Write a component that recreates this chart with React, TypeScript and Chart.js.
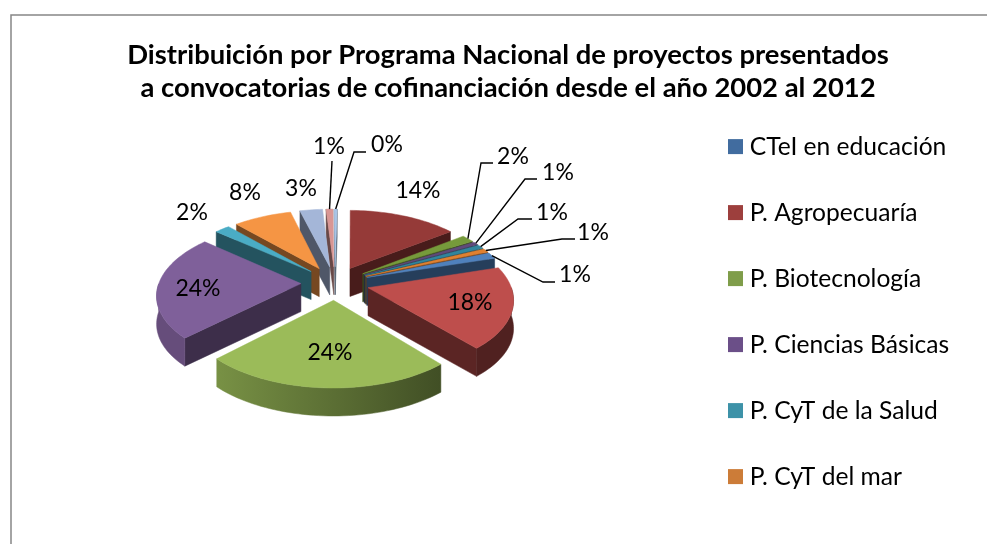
import React, { useEffect, useRef } from "react";
import { Chart, registerables } from "chart.js";

Chart.register(...registerables);

const FONT = "Lato";

const titleLines = [
  "Distribuición por Programa Nacional de proyectos presentados",
  "a convocatorias de cofinanciación desde el año 2002 al 2012",
];

// Only the first six names are legible: the source legend is cut off after them.
const categories = [
  "CTeI en educación",
  "P. Agropecuaría",
  "P. Biotecnología",
  "P. Ciencias Básicas",
  "P. CyT de la Salud",
  "P. CyT del mar",
  "", "", "", "", "", "", "", "",
];

const shares = [1.4, 18.4, 23.9, 23.6, 2.0, 7.7, 3.0, 0.9, 0.4, 14.4, 1.7, 0.7, 0.9, 0.9];

const sliceColors = [
  "#4F81BD", "#BE4E4C", "#9BBB59", "#7F609A", "#4AACC5", "#F59544", "#A4B6D8",
  "#D99694", "#A9C4E6", "#953A38", "#769A3B", "#5F4A7B", "#31859C", "#E08030",
];

const legendColors = ["#416C9F", "#9D3F3D", "#7F9D4A", "#6B4F88", "#3D92A8", "#CC7C38"];

// Label and leader layout, relative to the pie's centre.
const labelOffsets: [number, number][] = [
  [240, -8], [135, 20], [-5, 70], [-137, 6], [-143, -70], [-90, -90], [-34, -94],
  [-6, -136], [52, -138], [83, -92], [178, -126], [223, -110], [217, -70], [258, -50],
];

// [elbow dx, elbow dy, end dx] for the labels that have a leader line.
const leaders: Record<number, [number, number, number]> = {
  0: [208, -1, 220],
  7: [-3, -122, -3],
  8: [19, -131, 31],
  10: [146, -120, 158],
  11: [190, -104, 202],
  12: [183, -64, 197],
  13: [227, -44, 240],
};

const PIE_CENTER = { x: 335, y: 283 };
const PIE_OFFSET = 35;
const PIE_AREA = 327;
const RX = 142;
const RY = 70;
const PERSP = 0.14;
const DEPTH = 28;

function shade(hex: string, f: number) {
  const n = parseInt(hex.slice(1), 16);
  const c = [(n >> 16) & 255, (n >> 8) & 255, n & 255].map((v) => Math.round(v * f));
  return `rgb(${c[0]},${c[1]},${c[2]})`;
}

const pie3d = {
  id: "pie3d",
  afterLayout(chart: any) {
    const half = PIE_AREA / 2;
    chart.chartArea = {
      left: PIE_CENTER.x - half,
      right: PIE_CENTER.x + half,
      top: PIE_CENTER.y - half,
      bottom: PIE_CENTER.y + half,
      width: PIE_AREA,
      height: PIE_AREA,
    };
    const { legend, titleBlock } = chart;
    if (legend) {
      legend.left = 692.1;
      legend.right = 987;
      legend.top = 92.9;
      legend.bottom = 560;
    }
    if (titleBlock) {
      titleBlock.left = 29;
      titleBlock.right = 987;
      titleBlock.top = 38.5;
      titleBlock.bottom = 105;
    }
  },
  beforeDraw(chart: any) {
    const { ctx } = chart;
    ctx.save();
    ctx.strokeStyle = "#868686";
    ctx.lineWidth = 1.5;
    ctx.beginPath();
    ctx.moveTo(11, 544);
    ctx.lineTo(11, 15);
    ctx.lineTo(987, 15);
    ctx.stroke();
    ctx.restore();
  },
  beforeDatasetsDraw(chart: any) {
    const { ctx } = chart;
    const meta = chart.getDatasetMeta(0);
    const arcs: any[] = meta.data;
    const cx = arcs[0].x;
    const cy = arcs[0].y;
    const project = (u: number, v: number, z = 0) => {
      const g = 1 / (1 - PERSP * v);
      return [cx + RX * u * g, cy + RY * v * g + z];
    };
    const order = arcs
      .map((el, i) => ({ el, i, mid: (el.startAngle + el.endAngle) / 2 }))
      .sort((a, b) => Math.sin(a.mid) - Math.sin(b.mid));

    const gradient = (color: string) => {
      const g = ctx.createLinearGradient(cx - 135, 0, cx + 105, 0);
      g.addColorStop(0, shade(color, 0.8));
      g.addColorStop(1, shade(color, 0.42));
      return g;
    };
    const poly = (pts: number[][], fill: any) => {
      ctx.beginPath();
      pts.forEach((p, k) => (k ? ctx.lineTo(p[0], p[1]) : ctx.moveTo(p[0], p[1])));
      ctx.closePath();
      ctx.fillStyle = fill;
      ctx.fill();
      ctx.strokeStyle = fill;
      ctx.lineWidth = 0.5;
      ctx.stroke();
    };

    const anchors: number[][] = [];
    ctx.save();
    for (const { el, i, mid } of order) {
      const color = sliceColors[i];
      const e = el.options.offset / el.outerRadius;
      const ou = e * Math.cos(mid);
      const ov = e * Math.sin(mid);
      const a0 = el.startAngle;
      const a1 = el.endAngle;
      const steps = Math.max(3, Math.ceil((a1 - a0) / 0.03));
      const angles: number[] = [];
      for (let s = 0; s <= steps; s++) angles.push(a0 + ((a1 - a0) * s) / steps);
      const rim = (a: number, z = 0) => project(ou + Math.cos(a), ov + Math.sin(a), z);
      const apex = project(ou, ov);
      const apexLow = project(ou, ov, DEPTH);

      // Radial walls that face the viewer.
      if (Math.sin(a0 - Math.PI / 2) > 0) {
        poly([apex, rim(a0), rim(a0, DEPTH), apexLow], shade(color, 0.48));
      }
      if (Math.sin(a1 + Math.PI / 2) > 0) {
        poly([apex, rim(a1), rim(a1, DEPTH), apexLow], shade(color, 0.48));
      }
      // Outer wall: the part of the rim on the near side of the slice.
      const near = angles.filter((a) => Math.sin(a) >= 0);
      if (near.length > 1) {
        poly(
          [...near.map((a) => rim(a)), ...near.slice().reverse().map((a) => rim(a, DEPTH))],
          gradient(color)
        );
      }
      // Top face.
      poly([apex, ...angles.map((a) => rim(a))], color);
      anchors[i] = rim(mid);
    }

    // Leader lines.
    ctx.strokeStyle = "#000";
    ctx.lineWidth = 1.4;
    Object.keys(leaders).forEach((key) => {
      const i = Number(key);
      const [ex, ey, endX] = leaders[i];
      ctx.beginPath();
      ctx.moveTo(anchors[i][0], anchors[i][1]);
      ctx.lineTo(cx + ex, cy + ey);
      ctx.lineTo(cx + endX, cy + ey);
      ctx.stroke();
    });

    // Percentage labels.
    const total = shares.reduce((s, v) => s + v, 0);
    ctx.fillStyle = "#000";
    ctx.font = `23px ${FONT}`;
    ctx.textAlign = "center";
    ctx.textBaseline = "middle";
    shares.forEach((v, i) => {
      const [dx, dy] = labelOffsets[i];
      ctx.fillText(`${Math.round((v / total) * 100)}%`, cx + dx, cy + dy);
    });
    ctx.restore();
    return false;
  },
};

export default function App() {
  const ref = useRef<HTMLCanvasElement>(null);
  useEffect(() => {
    const chart = new Chart(ref.current as HTMLCanvasElement, {
      type: "pie",
      data: {
        labels: categories,
        datasets: [
          {
            data: shares,
            backgroundColor: sliceColors,
            offset: PIE_OFFSET,
            borderWidth: 0,
            rotation: 68,
          } as any,
        ],
      },
      options: {
        responsive: false,
        animation: false,
        plugins: {
          tooltip: { enabled: false },
          title: {
            display: true,
            text: titleLines,
            color: "#000",
            padding: 0,
            font: { family: FONT, size: 27.4, weight: "bold", lineHeight: 1.204 },
          },
          legend: {
            display: true,
            position: "right",
            align: "start",
            labels: {
              boxWidth: 4,
              boxHeight: 4,
              padding: 41.4,
              color: "#000",
              font: { family: FONT, size: 24.6 },
              generateLabels: () =>
                categories
                  .map((text, i) => ({
                    text,
                    fillStyle: legendColors[i],
                    strokeStyle: legendColors[i],
                    lineWidth: 11,
                    hidden: false,
                    index: i,
                  }))
                  .filter((item) => item.text !== ""),
            },
          },
        },
      } as any,
      plugins: [pie3d as any],
    });
    return () => chart.destroy();
  }, []);
  return (
    <div style={{ position: "absolute", left: 0, top: 0, width: 987, height: 544, background: "#fff" }}>
      <canvas ref={ref} width={987} height={544} style={{ display: "block" }} />
    </div>
  );
}
